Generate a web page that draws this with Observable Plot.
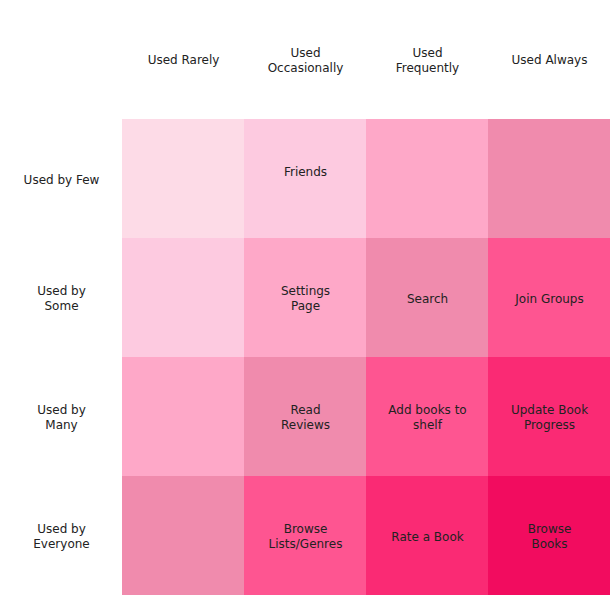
<!DOCTYPE html>
<html>
<head>
<meta charset="utf-8">
<script src="https://cdn.jsdelivr.net/npm/d3@7"></script>
<script src="https://cdn.jsdelivr.net/npm/@observablehq/plot@0.6"></script>
<style>
  html, body { margin: 0; padding: 0; background: #fff; }
</style>
</head>
<body>
<div id="chart"></div>
<script>
const cols = ["Used Rarely", "Used Occasionally", "Used Frequently", "Used Always"];
const colLabels = ["Used Rarely", "Used\nOccasionally", "Used\nFrequently", "Used Always"];
const rows = ["Used by Few", "Used by Some", "Used by Many", "Used by Everyone"];
const rowLabels = ["Used by Few", "Used by\nSome", "Used by\nMany", "Used by\nEveryone"];
const levels = [
  [0, 1, 2, 3],
  [1, 2, 3, 4],
  [2, 3, 4, 5],
  [3, 4, 5, 6]
];
const features = [
  ["", "Friends\n", "", ""],
  ["", "Settings\nPage", "Search", "Join Groups"],
  ["", "Read\nReviews", "Add books to\nshelf", "Update Book\nProgress"],
  ["", "Browse\nLists/Genres", "Rate a Book", "Browse\nBooks"]
];
const palette = ["#fddbe7", "#fdcae0", "#fea8c8", "#f08bad", "#fe5591", "#fa2a74", "#f20c5f"];

const data = [];
rows.forEach((r, i) => cols.forEach((c, j) => {
  data.push({row: r, col: c, level: levels[i][j], feature: features[i][j]});
}));

const colLabelOf = new Map(cols.map((c, i) => [c, colLabels[i]]));
const rowLabelOf = new Map(rows.map((r, i) => [r, rowLabels[i]]));

const chart = Plot.plot({
  width: 610,
  height: 595,
  marginTop: 118,
  marginLeft: 122,
  marginRight: 0,
  marginBottom: 0,
  style: {fontFamily: "DejaVu Sans, Verdana, sans-serif", fontSize: "12px", background: "#fff"},
  x: {domain: cols, padding: 0, axis: null},
  y: {domain: rows, padding: 0, axis: null},
  color: {type: "ordinal", domain: [0, 1, 2, 3, 4, 5, 6], range: palette},
  marks: [
    Plot.cell(data, {x: "col", y: "row", fill: "level", inset: 0}),
    Plot.text(data.filter(d => d.feature), {x: "col", y: "row", text: "feature", fill: "#222", fontSize: 12, lineHeight: 1.25}),
    Plot.axisX({anchor: "top", label: null, tickSize: 0, tickPadding: 59, lineAnchor: "middle", lineHeight: 1.25,
      tickFormat: d => colLabelOf.get(d), fill: "#222", fontSize: 12}),
    Plot.axisY({anchor: "left", label: null, tickSize: 0, tickPadding: 61, textAnchor: "middle", lineHeight: 1.25,
      tickFormat: d => rowLabelOf.get(d), fill: "#222", fontSize: 12})
  ]
});
document.getElementById("chart").appendChild(chart);
</script>
</body>
</html>
